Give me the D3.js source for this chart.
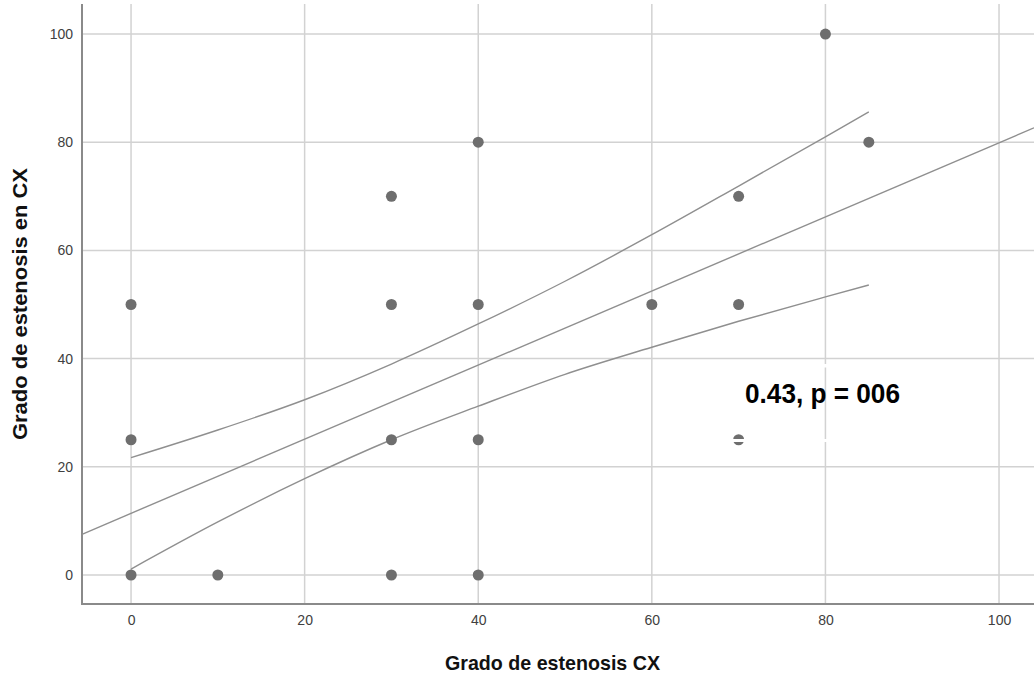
<!DOCTYPE html>
<html>
<head>
<meta charset="utf-8">
<script src="https://cdn.jsdelivr.net/npm/d3@7"></script>
<style>
  html, body { margin: 0; padding: 0; background: #fff; }
  svg { display: block; font-family: "Liberation Sans", Arial, sans-serif; }
</style>
</head>
<body>
<svg id="chart" width="1034" height="677"></svg>
<script>
// Observations: x = grado de estenosis CX, y = grado de estenosis en CX
const pointX = [0, 0, 0, 10, 30, 30, 30, 30, 40, 40, 40, 40, 60, 70, 70, 70, 80, 85];
const pointY = [50, 25, 0, 0, 70, 50, 25, 0, 80, 50, 25, 0, 50, 70, 50, 25, 100, 80];

// Linear fit
const fitIntercept = 11.4;
const fitSlope = 0.685;

// 95% confidence band of the mean
const bandX = [0, 10, 20, 30, 40, 50, 60, 70, 80, 85];
const bandUpper = [21.7, 26.8, 32.4, 39.0, 46.4, 54.3, 62.9, 71.9, 81.0, 85.6];
const bandLower = [1.1, 9.8, 17.8, 25.0, 31.2, 37.1, 42.1, 46.9, 51.4, 53.6];

const xTicks = [0, 20, 40, 60, 80, 100];
const yTicks = [0, 20, 40, 60, 80, 100];

const xTitle = "Grado de estenosis CX";
const yTitle = "Grado de estenosis en CX";
const statLabel = "0.43, p = 006";

const svg = d3.select("#chart");
const plot = { left: 82, right: 1034, top: 4, bottom: 604 };

const x = d3.scaleLinear().domain([-5.65, 104.03]).range([plot.left, plot.right]);
const y = d3.scaleLinear().domain([-5.36, 105.55]).range([plot.bottom, plot.top]);

const gridColor = "#d2d2d2";
const axisColor = "#8a8a8a";
const markColor = "#6e6e6e";
const lineColor = "#8f8f8f";

// grid lines
const grid = svg.append("g");
grid.selectAll("line.vx").data(xTicks).join("line")
  .attr("x1", d => x(d)).attr("x2", d => x(d))
  .attr("y1", plot.top).attr("y2", plot.bottom)
  .attr("stroke", gridColor).attr("stroke-width", 1.5);
grid.selectAll("line.hy").data(yTicks).join("line")
  .attr("x1", plot.left).attr("x2", plot.right)
  .attr("y1", d => y(d)).attr("y2", d => y(d))
  .attr("stroke", gridColor).attr("stroke-width", 1.5);

// axes (no tick marks, only labels)
const xAxis = d3.axisBottom(x).tickValues(xTicks).tickSize(0).tickPadding(11).tickFormat(d3.format("d"));
const yAxis = d3.axisLeft(y).tickValues(yTicks).tickSize(0).tickPadding(9).tickFormat(d3.format("d"));

const gx = svg.append("g").attr("transform", `translate(0,${plot.bottom})`).call(xAxis);
const gy = svg.append("g").attr("transform", `translate(${plot.left},0)`).call(yAxis);
[gx, gy].forEach(g => {
  g.select(".domain").remove();
  g.selectAll("text").attr("fill", "#404040").style("font-size", "14px")
    .style("font-family", "'Liberation Sans', Arial, sans-serif");
});

svg.append("line")
  .attr("x1", plot.left).attr("x2", plot.left)
  .attr("y1", plot.top).attr("y2", plot.bottom + 1)
  .attr("stroke", axisColor).attr("stroke-width", 2);
svg.append("line")
  .attr("x1", plot.left - 1).attr("x2", plot.right)
  .attr("y1", plot.bottom).attr("y2", plot.bottom)
  .attr("stroke", axisColor).attr("stroke-width", 2);

// fit line across the whole x range
const xd = x.domain();
svg.append("line")
  .attr("x1", x(xd[0])).attr("y1", y(fitIntercept + fitSlope * xd[0]))
  .attr("x2", x(xd[1])).attr("y2", y(fitIntercept + fitSlope * xd[1]))
  .attr("stroke", lineColor).attr("stroke-width", 1.4);

// confidence band curves
const bandLine = d3.line().x(d => x(d[0])).y(d => y(d[1])).curve(d3.curveMonotoneX);
[bandUpper, bandLower].forEach(arr => {
  svg.append("path")
    .attr("d", bandLine(bandX.map((v, i) => [v, arr[i]])))
    .attr("fill", "none").attr("stroke", lineColor).attr("stroke-width", 1.4);
});

// points
svg.append("g").selectAll("circle").data(pointX.map((v, i) => [v, pointY[i]])).join("circle")
  .attr("cx", d => x(d[0])).attr("cy", d => y(d[1])).attr("r", 5.5)
  .attr("fill", markColor);

// text box edges over the annotation
svg.append("rect").attr("x", 728).attr("y", 364).attr("width", 104).attr("height", 3.5).attr("fill", "#fff");
svg.append("rect").attr("x", 728).attr("y", 439).attr("width", 104).attr("height", 3).attr("fill", "#fff");

// annotation
svg.append("text")
  .attr("x", 745).attr("y", 403)
  .attr("font-size", "27px").attr("font-weight", "bold").attr("fill", "#000")
  .attr("textLength", 155).attr("lengthAdjust", "spacingAndGlyphs")
  .text(statLabel);

// axis titles
svg.append("text")
  .attr("x", 445).attr("y", 670)
  .attr("font-size", "21px").attr("font-weight", "bold")
  .attr("textLength", 215).attr("lengthAdjust", "spacingAndGlyphs")
  .attr("fill", "#111").text(xTitle);
svg.append("text")
  .attr("transform", "translate(27,440) rotate(-90)")
  .attr("font-size", "20px").attr("font-weight", "bold")
  .attr("textLength", 272).attr("lengthAdjust", "spacingAndGlyphs")
  .attr("fill", "#111").text(yTitle);
</script>
</body>
</html>
